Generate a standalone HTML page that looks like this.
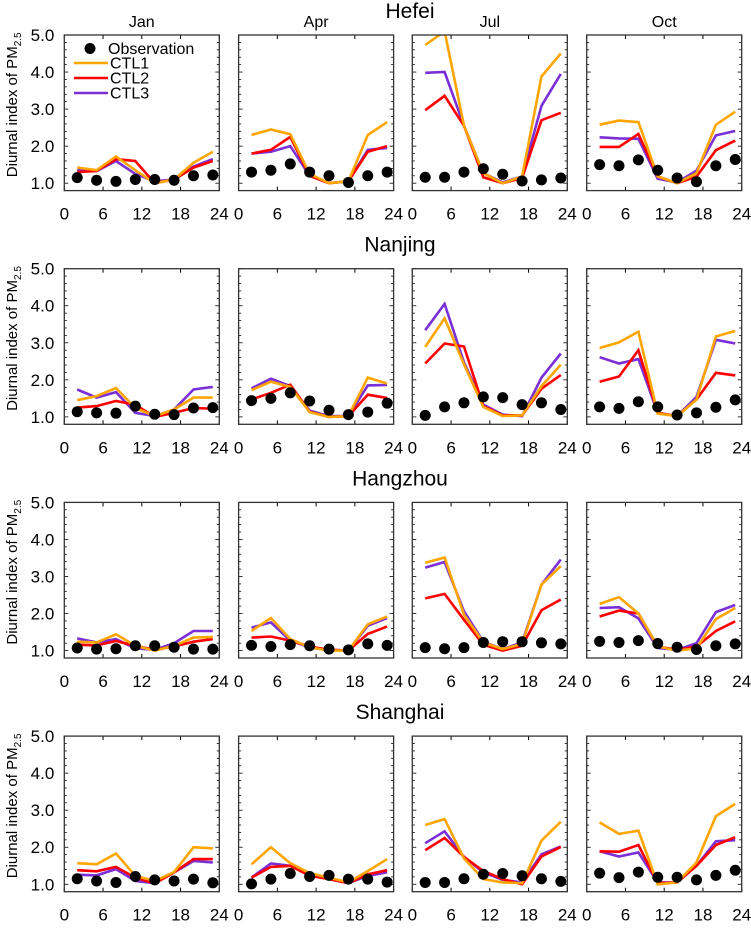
<!DOCTYPE html>
<html><head><meta charset="utf-8"><style>
body{margin:0;background:#fff;}
svg{display:block;font-family:"Liberation Sans",Arial,sans-serif;}
</style></head><body>
<svg id="chart" width="751" height="928" viewBox="0 0 751 928"></svg>
<script>
const cities = ["Hefei","Nanjing","Hangzhou","Shanghai"];
const months = ["Jan","Apr","Jul","Oct"];
const hours = [2,5,8,11,14,17,20,23];
const xTicks = [0,6,12,18,24];
const yTickLabels = ["1.0","2.0","3.0","4.0","5.0"];
const yTicks = [1,2,3,4,5];
const obs = [
 [[1.15,1.08,1.05,1.1,1.1,1.08,1.2,1.22],[1.3,1.35,1.52,1.3,1.2,1.02,1.2,1.3],[1.16,1.16,1.3,1.39,1.24,1.06,1.09,1.14],[1.5,1.47,1.63,1.35,1.14,1.04,1.47,1.64]],
 [[1.14,1.11,1.1,1.29,1.07,1.06,1.24,1.25],[1.44,1.5,1.65,1.43,1.18,1.06,1.13,1.37],[1.04,1.27,1.38,1.54,1.52,1.33,1.38,1.2],[1.27,1.23,1.41,1.27,1.05,1.11,1.26,1.46]],
 [[1.07,1.04,1.05,1.13,1.13,1.09,1.04,1.04],[1.14,1.11,1.16,1.13,1.04,1.02,1.18,1.14],[1.08,1.05,1.08,1.22,1.24,1.24,1.21,1.18],[1.25,1.22,1.27,1.19,1.09,1.03,1.13,1.18]],
 [[1.15,1.09,1.05,1.21,1.12,1.09,1.14,1.04],[1.01,1.14,1.29,1.21,1.24,1.14,1.14,1.06],[1.05,1.05,1.15,1.27,1.29,1.23,1.15,1.08],[1.3,1.18,1.33,1.19,1.19,1.12,1.24,1.38]]
];
const ctl1 = [
 [[1.42,1.35,1.72,1.35,1.0,1.1,1.55,1.85],[2.3,2.45,2.32,1.25,1.0,1.05,2.3,2.65],[4.73,5.1,2.55,1.27,1.0,1.18,3.88,4.5],[2.58,2.69,2.65,1.18,1.0,1.27,2.58,2.93]],
 [[1.45,1.56,1.78,1.24,1.02,1.2,1.52,1.52],[1.72,1.95,1.81,1.13,1.0,1.02,2.06,1.9],[2.89,3.66,2.42,1.27,1.02,1.04,1.83,2.41],[2.86,3.01,3.3,1.09,1.02,1.47,3.17,3.32]],
 [[1.24,1.22,1.44,1.13,1.0,1.13,1.35,1.37],[1.53,1.88,1.31,1.09,1.0,1.0,1.71,1.92],[3.37,3.51,1.97,1.22,1.04,1.18,2.78,3.28],[2.26,2.44,2.0,1.11,1.0,1.06,1.85,2.15]],
 [[1.57,1.54,1.83,1.23,1.09,1.33,2.0,1.97],[1.54,2.0,1.57,1.3,1.18,1.05,1.36,1.68],[2.6,2.76,1.7,1.14,1.05,1.03,2.18,2.69],[2.67,2.36,2.45,1.0,1.05,1.59,2.84,3.17]]
];
const ctl2 = [
 [[1.3,1.33,1.65,1.6,1.0,1.1,1.42,1.6],[1.8,1.9,2.25,1.2,1.0,1.05,1.85,2.0],[2.97,3.36,2.55,1.16,1.0,1.14,2.7,2.9],[1.98,1.98,2.33,1.18,1.0,1.18,1.89,2.15]],
 [[1.25,1.29,1.43,1.33,1.0,1.11,1.24,1.22],[1.47,1.65,1.87,1.14,1.0,1.02,1.6,1.51],[2.44,2.98,2.9,1.29,1.04,1.04,1.76,2.13],[1.95,2.09,2.8,1.11,1.02,1.47,2.19,2.12]],
 [[1.16,1.14,1.26,1.13,1.02,1.11,1.24,1.31],[1.35,1.38,1.27,1.11,1.02,1.0,1.45,1.65],[2.41,2.53,1.83,1.16,1.0,1.13,2.09,2.38],[1.92,2.08,2.0,1.11,1.02,1.11,1.53,1.79]],
 [[1.38,1.35,1.47,1.18,1.02,1.32,1.68,1.68],[1.18,1.47,1.5,1.23,1.14,1.03,1.27,1.38],[1.92,2.25,1.74,1.36,1.14,1.0,1.75,2.01],[1.89,1.88,2.06,1.03,1.05,1.5,2.06,2.27]]
];
const ctl3 = [
 [[1.35,1.33,1.6,1.25,1.05,1.1,1.45,1.65],[1.8,1.85,2.0,1.2,1.0,1.05,1.9,1.95],[3.98,4.0,2.55,1.27,1.02,1.18,3.09,3.95],[2.24,2.21,2.2,1.12,1.02,1.34,2.29,2.41]],
 [[1.74,1.52,1.67,1.11,1.02,1.2,1.74,1.81],[1.77,2.03,1.83,1.17,1.02,1.02,1.85,1.86],[3.34,4.05,2.47,1.33,1.06,1.02,2.06,2.71],[2.61,2.44,2.56,1.11,1.02,1.54,3.08,2.98]],
 [[1.33,1.22,1.31,1.06,1.02,1.2,1.53,1.53],[1.62,1.76,1.27,1.09,1.02,1.0,1.67,1.88],[3.24,3.39,2.06,1.24,1.04,1.22,2.78,3.46],[2.15,2.17,1.87,1.07,1.02,1.2,2.04,2.23]],
 [[1.26,1.24,1.41,1.09,1.03,1.32,1.63,1.59],[1.18,1.56,1.5,1.27,1.14,1.03,1.23,1.32],[2.11,2.43,1.74,1.32,1.12,1.05,1.81,2.02],[1.89,1.75,1.86,1.05,1.05,1.5,2.16,2.19]]
];

const NS="http://www.w3.org/2000/svg";
const svg=document.getElementById('chart');
function mk(tag,attrs,parent){const e=document.createElementNS(NS,tag);for(const k in attrs)e.setAttribute(k,attrs[k]);(parent||svg).appendChild(e);return e;}
const colX=[64.3,238.6,412.3,586.7], rowY=[35,268.7,502.4,736.1], PW=155, PH=155.6;
const YMIN=0.8,YMAX=5.0;
function sx(c,h){return colX[c]+h/24*PW;}
function sy(r,v){return rowY[r]+(YMAX-v)/(YMAX-YMIN)*PH;}
const defs=mk('defs',{});
const series=[{d:ctl3,c:"#7b2fd6",n:"ctl3"},{d:ctl2,c:"#ff0000",n:"ctl2"},{d:ctl1,c:"#ffa500",n:"ctl1"}];

for(let r=0;r<4;r++){
  const t=mk('text',{x:(r===0?410:400),y:rowY[r]-17,'font-size':21,'text-anchor':'middle'});
  t.textContent=cities[r];
  
  
  for(let c=0;c<4;c++){
    const g=mk('g',{});
    
    
    const cid='clip'+r+'_'+c;
    const cp=mk('clipPath',{id:cid},defs);
    mk('rect',{x:colX[c],y:rowY[r],width:PW,height:PH},cp);
    for(const xt of xTicks){
      const x=sx(c,xt);
      mk('line',{x1:x,x2:x,y1:rowY[r],y2:rowY[r]+4,stroke:'#000','stroke-width':1},g);
      mk('line',{x1:x,x2:x,y1:rowY[r]+PH,y2:rowY[r]+PH-4,stroke:'#000','stroke-width':1},g);
      const tl=mk('text',{x:x,y:rowY[r]+PH+29,'font-size':17,'text-anchor':'middle'},g);
      tl.textContent=xt;
      
      
    }
    for(let k=0;k<=21;k++){
      const v=YMIN+k*0.2; const y=sy(r,v);
      const major=Math.abs(v-Math.round(v))<1e-6;
      const len=major?4:2.5;
      mk('line',{x1:colX[c],x2:colX[c]+len,y1:y,y2:y,stroke:'#000','stroke-width':0.8},g);
      mk('line',{x1:colX[c]+PW,x2:colX[c]+PW-len,y1:y,y2:y,stroke:'#000','stroke-width':0.8},g);
    }
    if(c===0){
      yTicks.forEach((v,i)=>{
        const yl=mk('text',{x:colX[0]-10,y:sy(r,v)+6,'font-size':17,'text-anchor':'end'},g);
        yl.textContent=yTickLabels[i];
        
        
      });
      const cy=rowY[r]+PH/2;
      const yt=mk('text',{x:0,y:0,'font-size':15,'text-anchor':'middle',transform:`translate(17,${cy-8}) rotate(-90)`},g);
      yt.innerHTML='Diurnal index of PM<tspan font-size="10" dy="4">2.5</tspan>';
      
      
    }
    if(r===0){
      const mt=mk('text',{x:colX[c]+PW/2,y:rowY[0]-8,'font-size':16,'text-anchor':'middle'},g);
      mt.textContent=months[c];
      
      
    }
    const sg=mk('g',{'clip-path':`url(#${cid})`},g);
    for(const s of series){
      const pts=hours.map((h,i)=>sx(c,h).toFixed(1)+','+sy(r,s.d[r][c][i]).toFixed(1)).join(' ');
      const pl=mk('polyline',{points:pts,fill:'none',stroke:s.c,'stroke-width':2.6,'stroke-linejoin':'miter'},sg);
      
      
    }
    hours.forEach((h,i)=>{
      const dot=mk('circle',{cx:sx(c,h),cy:sy(r,obs[r][c][i]),r:5.5,fill:'#000'},sg);
      
      
    });
    mk('rect',{x:colX[c],y:rowY[r],width:PW,height:PH,fill:'none',stroke:'#333','stroke-width':1.3},g);
  }
}
const lg=mk('g',{});


mk('circle',{cx:90,cy:48.5,r:5.5,fill:'#000'},lg);
const lt0=mk('text',{x:108,y:54,'font-size':16},lg); lt0.textContent='Observation';
const leg=[["CTL1","#ffa500"],["CTL2","#ff0000"],["CTL3","#7b2fd6"]];
leg.forEach((l,i)=>{
  const y=63+i*15;
  mk('line',{x1:74,x2:108,y1:y,y2:y,stroke:l[1],'stroke-width':2.6},lg);
  const t=mk('text',{x:110,y:y+5.5,'font-size':16},lg); t.textContent=l[0];
});
</script>
</body></html>
